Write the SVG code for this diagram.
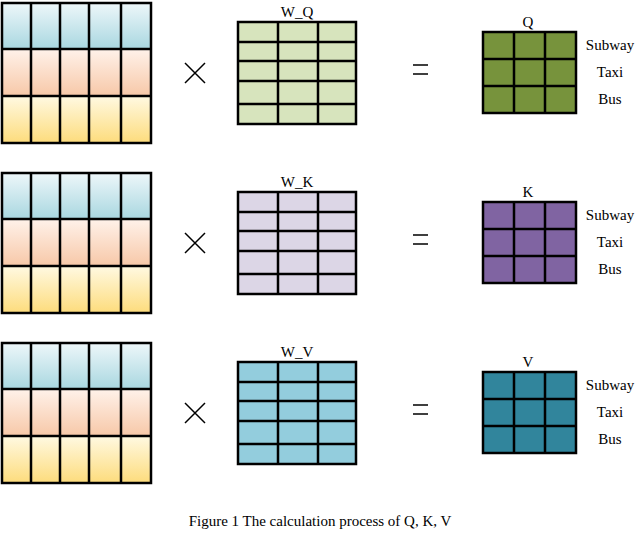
<svg xmlns="http://www.w3.org/2000/svg" width="640" height="534" viewBox="0 0 640 534">
<defs>
<linearGradient id="gb" x1="0" y1="0" x2="0" y2="1"><stop offset="0" stop-color="#eef7fa"/><stop offset="1" stop-color="#a9d7e0"/></linearGradient>
<linearGradient id="gp" x1="0" y1="0" x2="0" y2="1"><stop offset="0" stop-color="#fff2ea"/><stop offset="1" stop-color="#f7c8a8"/></linearGradient>
<linearGradient id="gy" x1="0" y1="0" x2="0" y2="1"><stop offset="0" stop-color="#fff9e2"/><stop offset="1" stop-color="#fddc7c"/></linearGradient>
<g id="inp">
<rect x="2" y="3" width="149" height="46" fill="url(#gb)"/>
<rect x="2" y="49" width="149" height="47" fill="url(#gp)"/>
<rect x="2" y="96" width="149" height="47" fill="url(#gy)"/>
<path d="M2 3H151V143H2Z M31 3V143 M60 3V143 M89 3V143 M121 3V143 M2 49H151 M2 96H151" fill="none" stroke="#000" stroke-width="2.5"/>
</g>
<path id="wg" d="M238 22H356V124H238Z M278 22V124 M318 22V124 M238 42H356 M238 61H356 M238 81H356 M238 104H356" fill="none" stroke="#000" stroke-width="2.5"/>
<path id="og" d="M483 32H576V113H483Z M514 32V113 M545 32V113 M483 59H576 M483 86H576" fill="none" stroke="#000" stroke-width="2.5"/>
<g id="ops">
<path d="M185 63L205 83M205 63L185 83" stroke="#000" stroke-width="1.5"/>
<path d="M413 65H428M413 74H428" stroke="#000" stroke-width="1.5"/>
</g>
</defs>
<style>text{font-family:"Liberation Serif",serif;font-size:15px;fill:#000;text-anchor:middle}</style>
<g id="row-q">
<use href="#inp"/><use href="#ops"/>
<rect x="238" y="22" width="118" height="102" fill="#d7e4bd"/><use href="#wg"/>
<rect x="483" y="32" width="93" height="81" fill="#77933c"/><use href="#og"/>
<text x="297" y="17">W_Q</text><text x="528" y="27">Q</text>
<text x="610" y="50">Subway</text><text x="610" y="77">Taxi</text><text x="610" y="104">Bus</text>
</g>
<g id="row-k" transform="translate(0,170)">
<use href="#inp"/><use href="#ops"/>
<rect x="238" y="22" width="118" height="102" fill="#dcd6e6"/><use href="#wg"/>
<rect x="483" y="32" width="93" height="81" fill="#8064a2"/><use href="#og"/>
<text x="297" y="17">W_K</text><text x="528" y="27">K</text>
<text x="610" y="50">Subway</text><text x="610" y="77">Taxi</text><text x="610" y="104">Bus</text>
</g>
<g id="row-v" transform="translate(0,340)">
<use href="#inp"/><use href="#ops"/>
<rect x="238" y="22" width="118" height="102" fill="#93cddd"/><use href="#wg"/>
<rect x="483" y="32" width="93" height="81" fill="#31859c"/><use href="#og"/>
<text x="297" y="17">W_V</text><text x="528" y="27">V</text>
<text x="610" y="50">Subway</text><text x="610" y="77">Taxi</text><text x="610" y="104">Bus</text>
</g>
<text x="320" y="526">Figure 1 The calculation process of Q, K, V</text>
</svg>
